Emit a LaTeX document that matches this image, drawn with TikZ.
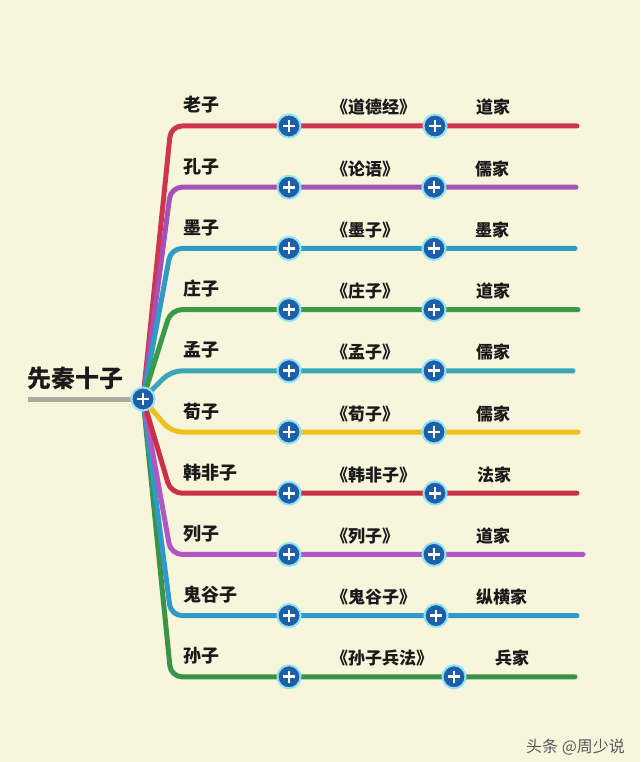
\documentclass[tikz,border=0pt]{standalone}
\usepackage{fontspec}
\setmainfont{Noto Sans CJK SC}
\definecolor{bgc}{HTML}{F7F6DC}
\definecolor{graylc}{HTML}{ABAAA0}
\definecolor{plusblue}{HTML}{1F5FAA}
\definecolor{glowc}{HTML}{8FE3F2}
\definecolor{txt}{HTML}{1A1A1A}
\definecolor{ca}{HTML}{CF3550}
\definecolor{cb}{HTML}{A552B8}
\definecolor{cc}{HTML}{2E9CC4}
\definecolor{cd}{HTML}{3A9A48}
\definecolor{ce}{HTML}{3AA6B8}
\definecolor{cf}{HTML}{EEC21E}
\definecolor{cg}{HTML}{C93246}
\definecolor{ch}{HTML}{B157C2}
\definecolor{ci}{HTML}{2E9AC9}
\definecolor{cj}{HTML}{3C9246}
\tikzset{
  branch/.style={line width=5pt, rounded corners=11pt, line cap=round},
  plusnode/.style={circle, fill=plusblue, draw=glowc, line width=2pt, minimum size=23pt, inner sep=0pt,
    path picture={\draw[white, line width=2.8pt]
      ([xshift=-6pt]path picture bounding box.center) -- ([xshift=6pt]path picture bounding box.center)
      ([yshift=-6pt]path picture bounding box.center) -- ([yshift=6pt]path picture bounding box.center);}},
  namelbl/.style={anchor=base west, inner sep=0pt, text=txt, font=\fontsize{18}{18}\selectfont\bfseries},
  booklbl/.style={anchor=base west, inner sep=0pt, text=txt, font=\fontsize{17}{17}\selectfont\bfseries},
  titlelbl/.style={anchor=base west, inner sep=0pt, text=txt, font=\fontsize{24}{24}\selectfont\bfseries},
  marklbl/.style={anchor=base west, inner sep=0pt, text=black!65, font=\fontsize{16}{16}\selectfont}
}
\begin{document}
\begin{tikzpicture}[x=1pt,y=-1pt]
\fill[bgc] (0,0) rectangle (640,762);
\useasboundingbox (0,0) rectangle (640,762);
\coordinate (g) at (28,399);
\coordinate (hubc) at (143,399);
\draw[line width=5pt, graylc] (g) -- (hubc);
\foreach \i/\col/\ex in {9/cj/575,8/ci/577,7/ch/583,6/cg/577,5/cf/578,0/ca/577,1/cb/576,2/cc/575,3/cd/578,4/ce/573}{
  \pgfmathsetmacro\yy{126+61.2*\i}
  \coordinate (k\i) at (171,\yy);
  \coordinate (e\i) at (\ex,\yy);
  \draw[branch, \col] (hubc) -- (k\i) -- (e\i);
}
\node[plusnode] (hub) at (hubc) {};
\node[titlelbl] (title) at (27,387) {先秦十子};
\foreach \i/\nm/\bk/\sc/\cx/\sx in {
  0/老子/《道德经》/道家/435/476,
  1/孔子/《论语》/儒家/434/475,
  2/墨子/《墨子》/墨家/434/475,
  3/庄子/《庄子》/道家/434/476,
  4/孟子/《孟子》/儒家/434/476,
  5/荀子/《荀子》/儒家/434/476,
  6/韩非子/《韩非子》/法家/435/477,
  7/列子/《列子》/道家/434/476,
  8/鬼谷子/《鬼谷子》/纵横家/436/476,
  9/孙子/《孙子兵法》/兵家/454/495}{
  \pgfmathsetmacro\yy{126+61.2*\i}
  \node[plusnode] (p\i) at (289,\yy) {};
  \node[plusnode] (q\i) at (\cx,\yy) {};
  \node[namelbl] (n\i) at (183,\yy-14) {\nm};
  \node[booklbl] (b\i) at (331,\yy-12) {\bk};
  \node[booklbl] (s\i) at (\sx,\yy-12) {\sc};
}
\node[marklbl] (wm) at (526,752) {头条 @周少说};
\end{tikzpicture}
\end{document}
